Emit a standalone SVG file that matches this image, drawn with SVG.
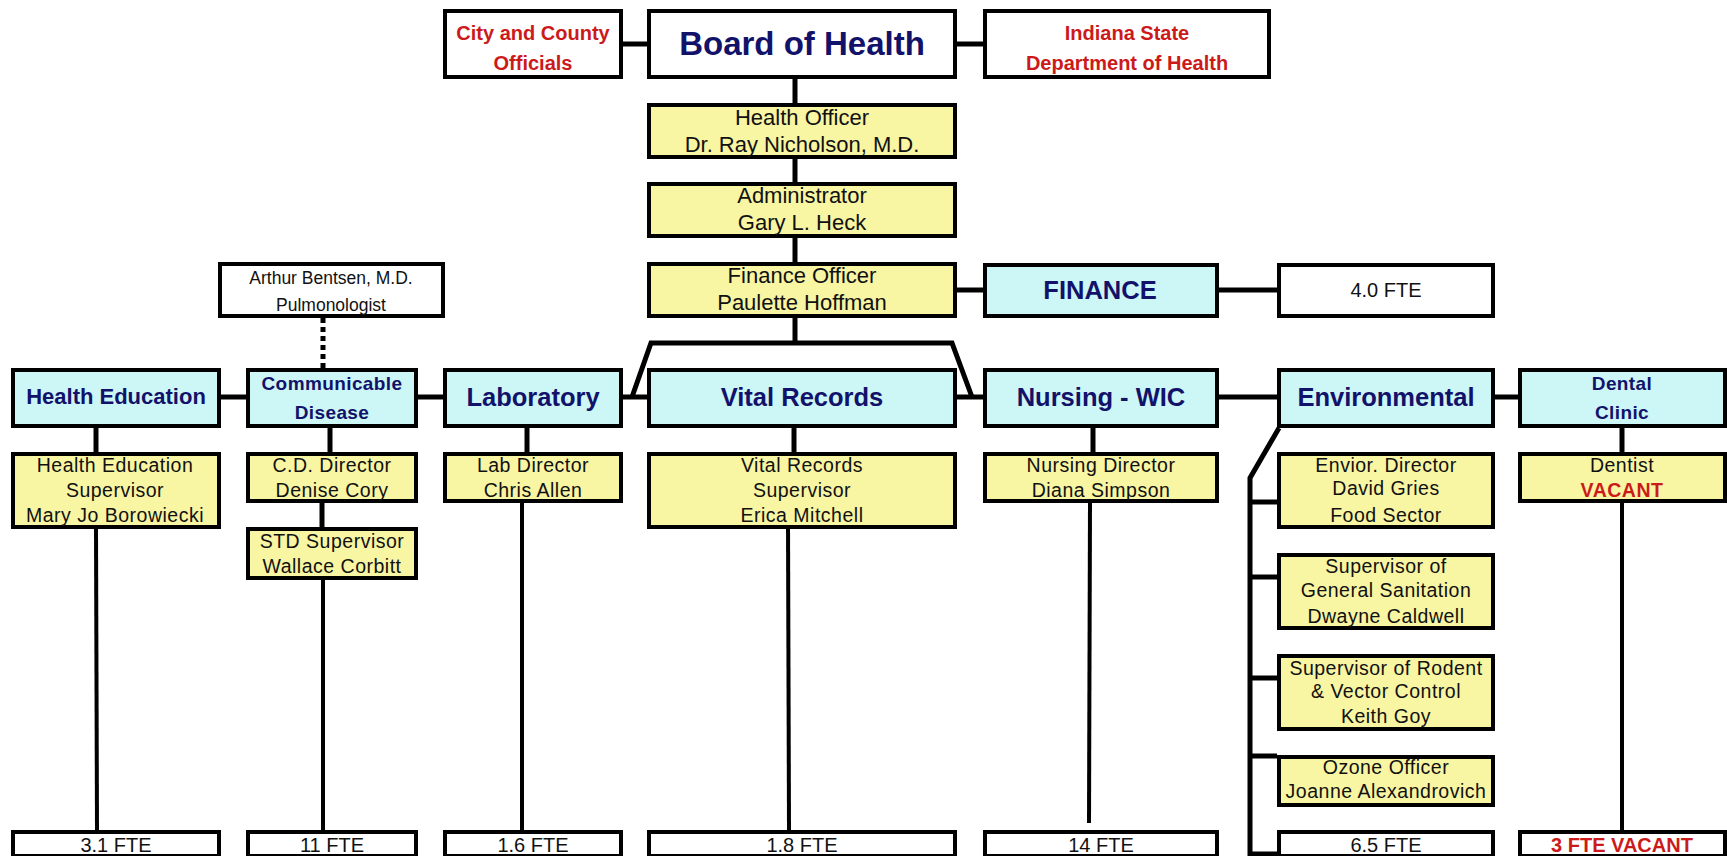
<svg xmlns="http://www.w3.org/2000/svg" width="1727" height="856" viewBox="0 0 1727 856">
<style>
rect{stroke:#000;stroke-width:4}
.w{fill:#fff}.c{fill:#cdf6f7}.y{fill:#f8f5a3}
.ln{stroke:#000;stroke-width:5;fill:none;stroke-linecap:butt}
.t4{stroke-width:4}
text{font-family:"Liberation Sans",Arial,sans-serif;text-anchor:middle;fill:#111}
.dp{font-weight:bold;fill:#12126a;font-size:25.5px}
.dp2{font-weight:bold;fill:#12126a;font-size:19px;letter-spacing:0.4px}
.rd{font-weight:bold;fill:#cc1a1a;font-size:20px}
.big{font-size:22px}
.sm{font-size:19.5px;letter-spacing:0.5px}
.ar{font-size:17.5px}
.ft{font-size:20px}
</style>
<g id="connectors">
<line class="ln" x1="623" y1="44" x2="647" y2="44"/>
<line class="ln" x1="957" y1="44" x2="983" y2="44"/>
<line class="ln" x1="795" y1="79" x2="795" y2="103"/>
<line class="ln" x1="795" y1="159" x2="795" y2="182"/>
<line class="ln" x1="795" y1="238" x2="795" y2="262"/>
<line class="ln" x1="795" y1="318" x2="795" y2="343"/>
<line class="ln" x1="957" y1="290" x2="983" y2="290"/>
<line class="ln" x1="1219" y1="290" x2="1277" y2="290"/>
<line x1="323" y1="318" x2="323" y2="368" stroke="#000" stroke-width="5" stroke-dasharray="5 4"/>
<path class="ln" d="M632 397 L651 343 L952 343 L972 397" stroke-width="6" stroke-linejoin="miter"/>
<line class="ln" x1="221" y1="397" x2="246" y2="397"/>
<line class="ln" x1="418" y1="397" x2="443" y2="397"/>
<line class="ln" x1="623" y1="397" x2="647" y2="397"/>
<line class="ln" x1="957" y1="397" x2="983" y2="397"/>
<line class="ln" x1="1219" y1="397" x2="1277" y2="397"/>
<line class="ln" x1="1495" y1="397" x2="1518" y2="397"/>
<line class="ln" x1="96" y1="428" x2="96" y2="452"/>
<line class="ln" x1="330" y1="428" x2="330" y2="452"/>
<line class="ln" x1="322" y1="503" x2="322" y2="527"/>
<line class="ln" x1="527" y1="428" x2="527" y2="452"/>
<line class="ln" x1="794" y1="428" x2="794" y2="452"/>
<line class="ln" x1="1093" y1="428" x2="1093" y2="452"/>
<line class="ln" x1="1622" y1="428" x2="1622" y2="452"/>
<line class="ln t4" x1="96" y1="529" x2="97" y2="830"/>
<line class="ln t4" x1="323" y1="580" x2="323" y2="830"/>
<line class="ln t4" x1="522" y1="503" x2="522" y2="830"/>
<line class="ln t4" x1="788" y1="523" x2="789" y2="830"/>
<line class="ln t4" x1="1090" y1="503" x2="1089" y2="823"/>
<line class="ln t4" x1="1622" y1="503" x2="1622" y2="830"/>
<path class="ln" d="M1279 428 L1250 478 L1250 854 L1277 854" stroke-linejoin="miter"/>
<line class="ln" x1="1250" y1="502" x2="1277" y2="502"/>
<line class="ln" x1="1250" y1="577" x2="1277" y2="577"/>
<line class="ln" x1="1250" y1="678" x2="1277" y2="678"/>
<line class="ln" x1="1250" y1="756" x2="1277" y2="756"/>
</g>
<g id="city"><rect class="w" x="445" y="11" width="176" height="66"/><text class="rd" x="533" y="40">City and County</text><text class="rd" x="533" y="70">Officials</text></g>
<g id="board"><rect class="w" x="649" y="11" width="306" height="66"/><text x="802" y="55" style="font-size:33px;font-weight:bold;fill:#12126a">Board of Health</text></g>
<g id="indiana"><rect class="w" x="985" y="11" width="284" height="66"/><text class="rd" x="1127" y="40">Indiana State</text><text class="rd" x="1127" y="70">Department of Health</text></g>
<g id="health-officer"><rect class="y" x="649" y="105" width="306" height="52"/><text class="big" x="802" y="125">Health Officer</text><text class="big" x="802" y="152">Dr. Ray Nicholson, M.D.</text></g>
<g id="administrator"><rect class="y" x="649" y="184" width="306" height="52"/><text class="big" x="802" y="203">Administrator</text><text class="big" x="802" y="230">Gary L. Heck</text></g>
<g id="finance-officer"><rect class="y" x="649" y="264" width="306" height="52"/><text class="big" x="802" y="283">Finance Officer</text><text class="big" x="802" y="310">Paulette Hoffman</text></g>
<g id="finance"><rect class="c" x="985" y="265" width="232" height="51"/><text class="dp" x="1100" y="299">FINANCE</text></g>
<g id="finance-fte"><rect class="w" x="1279" y="265" width="214" height="51"/><text class="ft" x="1386" y="297">4.0 FTE</text></g>
<g id="bentsen"><rect class="w" x="220" y="264" width="223" height="52"/><text class="ar" x="331" y="284">Arthur Bentsen, M.D.</text><text class="ar" x="331" y="311">Pulmonologist</text></g>
<g id="health-education"><rect class="c" x="13" y="370" width="206" height="56"/><text class="dp" x="116" y="404" style="font-size:22px">Health Education</text></g>
<g id="communicable"><rect class="c" x="248" y="370" width="168" height="56"/><text class="dp2" x="332" y="390">Communicable</text><text class="dp2" x="332" y="419">Disease</text></g>
<g id="laboratory"><rect class="c" x="445" y="370" width="176" height="56"/><text class="dp" x="533" y="406">Laboratory</text></g>
<g id="vital-records"><rect class="c" x="649" y="370" width="306" height="56"/><text class="dp" x="802" y="406">Vital Records</text></g>
<g id="nursing"><rect class="c" x="985" y="370" width="232" height="56"/><text class="dp" x="1101" y="406">Nursing - WIC</text></g>
<g id="environmental"><rect class="c" x="1279" y="370" width="214" height="56"/><text class="dp" x="1386" y="406">Environmental</text></g>
<g id="dental"><rect class="c" x="1520" y="370" width="205" height="56"/><text class="dp2" x="1622" y="390">Dental</text><text class="dp2" x="1622" y="419">Clinic</text></g>
<g id="he-supervisor"><rect class="y" x="13" y="454" width="206" height="73"/><text class="sm" x="115" y="472">Health Education</text><text class="sm" x="115" y="497">Supervisor</text><text class="sm" x="115" y="522">Mary Jo Borowiecki</text></g>
<g id="cd-director"><rect class="y" x="248" y="454" width="168" height="47"/><text class="sm" x="332" y="472">C.D. Director</text><text class="sm" x="332" y="497">Denise Cory</text></g>
<g id="std-supervisor"><rect class="y" x="248" y="529" width="168" height="49"/><text class="sm" x="332" y="548">STD Supervisor</text><text class="sm" x="332" y="573">Wallace Corbitt</text></g>
<g id="lab-director"><rect class="y" x="445" y="454" width="176" height="47"/><text class="sm" x="533" y="472">Lab Director</text><text class="sm" x="533" y="497">Chris Allen</text></g>
<g id="vr-supervisor"><rect class="y" x="649" y="454" width="306" height="73"/><text class="sm" x="802" y="472">Vital Records</text><text class="sm" x="802" y="497">Supervisor</text><text class="sm" x="802" y="522">Erica Mitchell</text></g>
<g id="nursing-director"><rect class="y" x="985" y="454" width="232" height="47"/><text class="sm" x="1101" y="472">Nursing Director</text><text class="sm" x="1101" y="497">Diana Simpson</text></g>
<g id="envior-director"><rect class="y" x="1279" y="454" width="214" height="73"/><text class="sm" x="1386" y="472">Envior. Director</text><text class="sm" x="1386" y="495">David Gries</text><text class="sm" x="1386" y="522">Food Sector</text></g>
<g id="dentist"><rect class="y" x="1520" y="454" width="205" height="47"/><text class="sm" x="1622" y="472">Dentist</text><text class="sm" x="1622" y="497" style="font-weight:bold;fill:#cc1a1a">VACANT</text></g>
<g id="sanitation"><rect class="y" x="1279" y="555" width="214" height="73"/><text class="sm" x="1386" y="573">Supervisor of</text><text class="sm" x="1386" y="597">General Sanitation</text><text class="sm" x="1386" y="623">Dwayne Caldwell</text></g>
<g id="rodent"><rect class="y" x="1279" y="656" width="214" height="73"/><text class="sm" x="1386" y="675">Supervisor of Rodent</text><text class="sm" x="1386" y="698">&amp; Vector Control</text><text class="sm" x="1386" y="723">Keith Goy</text></g>
<g id="ozone"><rect class="y" x="1279" y="757" width="214" height="48"/><text class="sm" x="1386" y="774">Ozone Officer</text><text class="sm" x="1386" y="798">Joanne Alexandrovich</text></g>
<g id="fte-he"><rect class="w" x="13" y="832" width="206" height="24"/><text class="ft" x="116" y="852">3.1 FTE</text></g>
<g id="fte-cd"><rect class="w" x="248" y="832" width="168" height="24"/><text class="ft" x="332" y="852">11 FTE</text></g>
<g id="fte-lab"><rect class="w" x="445" y="832" width="176" height="24"/><text class="ft" x="533" y="852">1.6 FTE</text></g>
<g id="fte-vr"><rect class="w" x="649" y="832" width="306" height="24"/><text class="ft" x="802" y="852">1.8 FTE</text></g>
<g id="fte-nursing"><rect class="w" x="985" y="832" width="232" height="24"/><text class="ft" x="1101" y="852">14 FTE</text></g>
<g id="fte-env"><rect class="w" x="1279" y="832" width="214" height="24"/><text class="ft" x="1386" y="852">6.5 FTE</text></g>
<g id="fte-dental"><rect class="w" x="1520" y="832" width="205" height="24"/><text class="rd" x="1622" y="852">3 FTE VACANT</text></g>
</svg>
